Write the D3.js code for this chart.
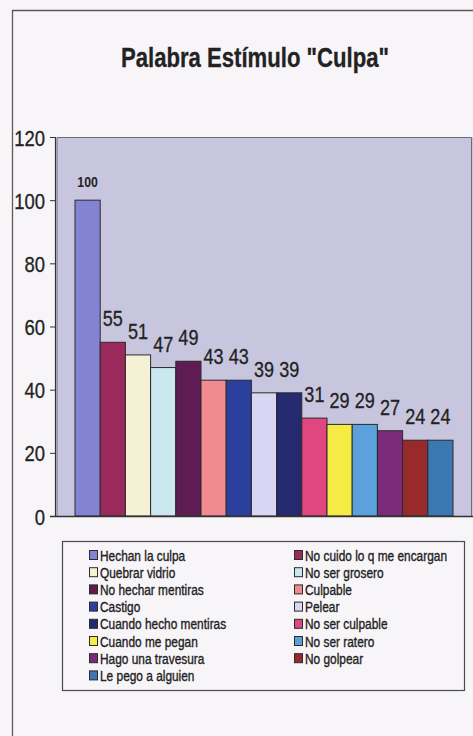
<!DOCTYPE html>
<html>
<head>
<meta charset="utf-8">
<script src="https://cdn.jsdelivr.net/npm/d3@7"></script>
<style>
  html, body { margin: 0; padding: 0; background: #f7f5f8; }
  svg { display: block; }
  text { font-family: 'Liberation Sans', Arial, sans-serif; }
</style>
</head>
<body>
<svg id="chart" width="473" height="736"></svg>
<script>
// Series (one bar each), in legend order
const series = [
  "Hechan la culpa", "No cuido lo q me encargan", "Quebrar vidrio", "No ser grosero",
  "No hechar mentiras", "Culpable", "Castigo", "Pelear", "Cuando hecho mentiras",
  "No ser culpable", "Cuando me pegan", "No ser ratero", "Hago una travesura",
  "No golpear", "Le pego a alguien"
];
const values = [100, 55, 51, 47, 49, 43, 43, 39, 39, 31, 29, 29, 27, 24, 24];
const colors = [
  "#8284d2", "#9a2a5c", "#f4f1d4", "#cbe7ef", "#5e1c52", "#f28a92", "#2b409c",
  "#d8d6f2", "#25296f", "#e0467f", "#f6eb44", "#5ba1dc", "#7b2b79", "#992a2c", "#3b77b1"
];
const yTicks = [0, 20, 40, 60, 80, 100, 120];
const title = 'Palabra Estímulo "Culpa"';

const svg = d3.select("#chart");
const ink = "#222";
const SX = 0.82; // horizontal squeeze giving a narrow typeface

// place a text at (x, y) with the narrow squeeze applied
function narrowAt(sel, fx, fy) {
  sel.attr("x", 0).attr("y", 0)
     .attr("transform", (d, i) => `translate(${fx(d, i)},${fy(d, i)}) scale(${SX},1)`);
}

// chart frame (left and top edges)
svg.append("path")
  .attr("d", "M12.5,736 V10.5 H473")
  .attr("fill", "none").attr("stroke", "#5a5a5a").attr("stroke-width", 1.3);

// title
svg.append("text")
  .attr("text-anchor", "middle")
  .attr("font-size", 27).attr("font-weight", "bold")
  .attr("fill", ink)
  .attr("stroke", ink).attr("stroke-width", 0.3)
  .text(title)
  .call(narrowAt, () => 255, () => 67);

// plot geometry
const plot = { left: 57, right: 473, top: 137, bottom: 516 };
const y = d3.scaleLinear().domain([0, 120]).range([plot.bottom, plot.top]);
const x = d3.scaleBand().domain(series).range([75, 453]).padding(0);

// plot area background
svg.append("rect")
  .attr("x", plot.left).attr("y", plot.top)
  .attr("width", plot.right - plot.left).attr("height", plot.bottom - plot.top)
  .attr("fill", "#c8c6df");
svg.append("path")
  .attr("d", `M${plot.left},${plot.bottom} V${plot.top + 0.5} H${plot.right - 1.5} V${plot.bottom}`)
  .attr("fill", "none").attr("stroke", "#6d6c7c").attr("stroke-width", 1);

// y axis
const yAxis = d3.axisLeft(y).tickValues(yTicks).tickSize(5).tickPadding(5);
const gy = svg.append("g").attr("transform", "translate(55,0)").call(yAxis);
gy.select(".domain").attr("stroke", "#333").attr("stroke-width", 1.2);
gy.selectAll(".tick line").attr("stroke", "#333");
gy.selectAll(".tick text")
  .attr("font-family", "'Liberation Sans', Arial, sans-serif")
  .attr("font-size", 22.5).attr("fill", ink)
  .attr("stroke", ink).attr("stroke-width", 0.3)
  .attr("dy", "0.36em")
  .attr("x", -10 / SX)
  .attr("transform", `scale(${SX},1)`);

// bars
svg.append("g").selectAll("rect")
  .data(series)
  .join("rect")
  .attr("x", d => x(d))
  .attr("y", (d, i) => y(values[i]))
  .attr("width", x.bandwidth())
  .attr("height", (d, i) => y(0) - y(values[i]))
  .attr("fill", (d, i) => colors[i])
  .attr("stroke", "#2b2b2b").attr("stroke-width", 1);

// x axis baseline
svg.append("line")
  .attr("x1", 50).attr("x2", plot.right)
  .attr("y1", plot.bottom + 0.5).attr("y2", plot.bottom + 0.5)
  .attr("stroke", "#333").attr("stroke-width", 1.3);

// value labels (the leading bar's label is set smaller and bold)
svg.append("g").selectAll("text")
  .data(series)
  .join("text")
  .attr("text-anchor", "middle")
  .attr("font-size", (d, i) => i === 0 ? 15 : 22)
  .attr("font-weight", (d, i) => i === 0 ? "bold" : "normal")
  .attr("fill", ink)
  .attr("stroke", ink).attr("stroke-width", (d, i) => i === 0 ? 0 : 0.3)
  .text((d, i) => values[i])
  .call(narrowAt, d => x(d) + x.bandwidth() / 2, (d, i) => y(values[i]) - (i === 0 ? 13 : 16));

// legend
const legend = { left: 62, top: 541, right: 464, bottom: 690 };
svg.append("rect")
  .attr("x", legend.left + 0.5).attr("y", legend.top + 0.5)
  .attr("width", legend.right - legend.left).attr("height", legend.bottom - legend.top)
  .attr("fill", "none").attr("stroke", "#4a4a4a").attr("stroke-width", 1.2);

const colX = [89, 294];
const rowY0 = 555, rowStep = 17.2;
const items = svg.append("g").selectAll("g")
  .data(series)
  .join("g")
  .attr("transform", (d, i) => `translate(${colX[i % 2]},${rowY0 + Math.floor(i / 2) * rowStep})`);
items.append("rect")
  .attr("x", 0.5).attr("y", -4.5).attr("width", 8).attr("height", 9)
  .attr("fill", (d, i) => colors[i])
  .attr("stroke", "#2b2b2b").attr("stroke-width", 1);
items.append("text")
  .attr("font-size", 14.5)
  .attr("fill", ink)
  .attr("stroke", ink).attr("stroke-width", 0.35)
  .text(d => d)
  .call(narrowAt, () => 11, () => 5.5);
</script>
</body>
</html>
